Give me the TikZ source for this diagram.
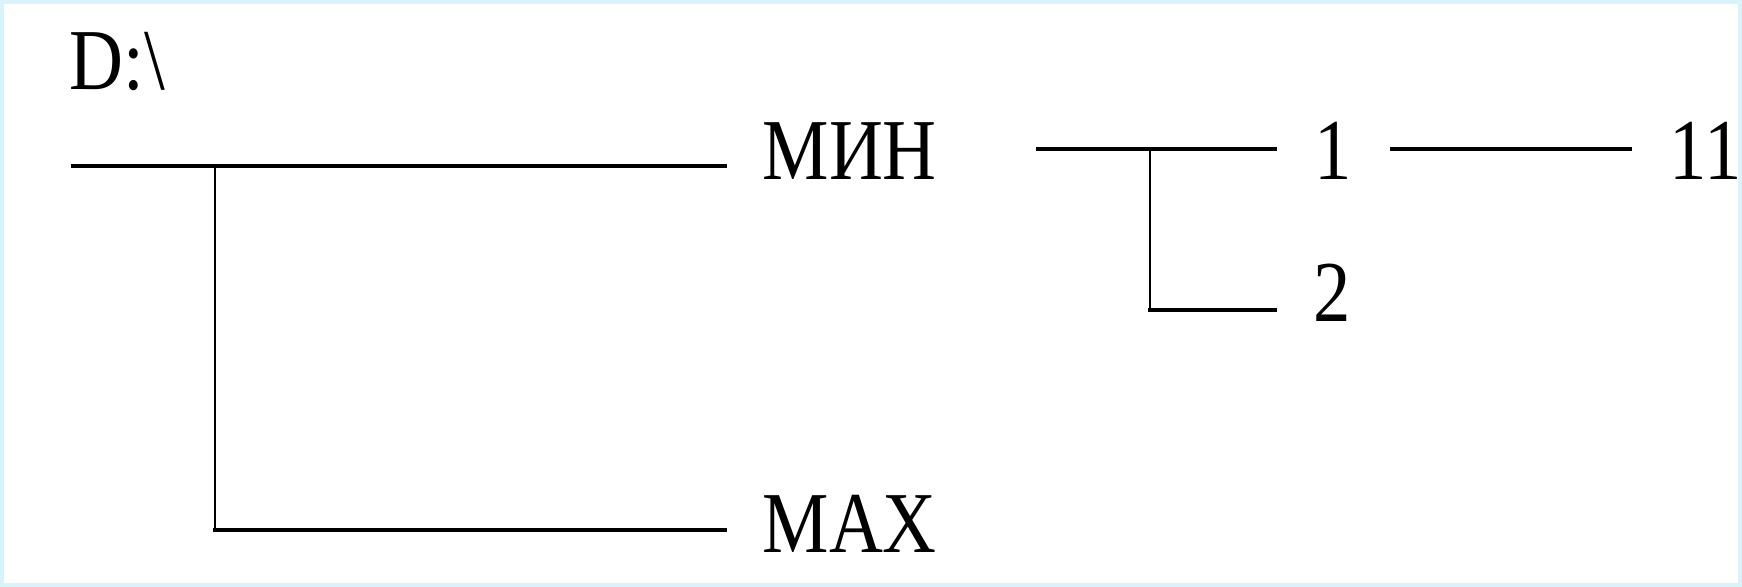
\documentclass[tikz,border=0pt]{standalone}
\usepackage{fontspec}
\setmainfont{Liberation Serif}[FakeStretch=0.86]
\usepackage{tikz}
\usetikzlibrary{positioning, calc}

\tikzset{
    dirlabel/.style={anchor=base west, inner sep=0pt, font=\fontsize{24.7}{30}\selectfont},
    branch/.style={black, line width=1pt, line cap=rect},
    trunk/.style={black, line width=0.6pt, line cap=rect}
}

\begin{document}
\begin{tikzpicture}
\useasboundingbox (0,0) rectangle (17.42,5.87);
\draw[cyan!15, line width=1pt] (0.02,0.02) rectangle (17.40,5.85);

% Root
\node[dirlabel] (root) at (0.69,4.97) {D:\textbackslash};

% First level
\node[dirlabel] (min) at (7.62,4.07) {МИН};
\node[dirlabel] (max) at (7.62,0.34) {MAX};

% Second level
\node[dirlabel] (one) at (13.14,4.07) {1};
\node[dirlabel] (two) at (13.13,2.65) {2};
\node[dirlabel] (eleven) at (16.69,4.07) {11};

% Line ends
\coordinate (rootstart) at (0.73,4.21);
\coordinate (rootfork) at (2.15,4.21);
\coordinate (minend) at (7.25,4.21);
\coordinate (maxend) at (7.25,0.57);
\coordinate (minstart) at (10.38,4.38);
\coordinate (minfork) at (11.50,4.38);
\coordinate (oneend) at (12.75,4.38);
\coordinate (twoend) at (12.75,2.77);
\coordinate (onestart) at (13.92,4.38);
\coordinate (elevenend) at (16.30,4.38);

% Branches
\draw[branch] (rootstart) -- (minend);
\draw[trunk] (rootfork) -- (rootfork |- maxend);
\draw[branch] (rootfork |- maxend) -- (maxend);
\draw[branch] (minstart) -- (oneend);
\draw[trunk] (minfork) -- (minfork |- twoend);
\draw[branch] (minfork |- twoend) -- (twoend);
\draw[branch] (onestart) -- (elevenend);
\end{tikzpicture}
\end{document}
